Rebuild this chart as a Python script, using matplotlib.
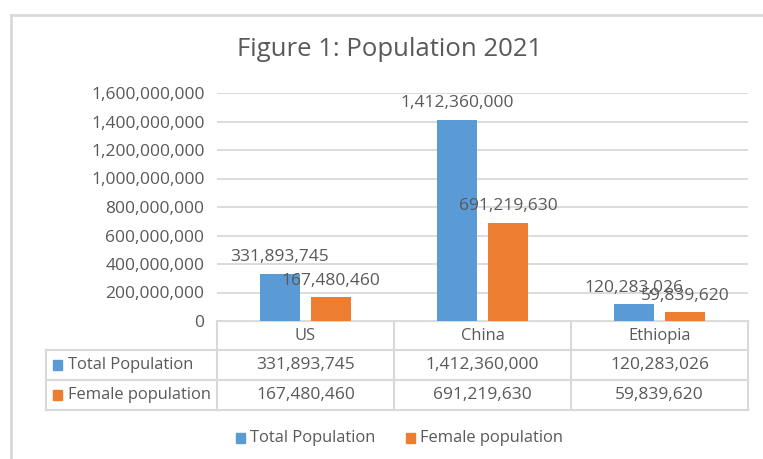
import matplotlib
matplotlib.use("Agg")
import matplotlib.pyplot as plt
from matplotlib.patches import Rectangle
from matplotlib.lines import Line2D
import numpy as np

categories = ["US", "China", "Ethiopia"]
series_names = ["Total Population", "Female population"]
total_pop = [331893745, 1412360000, 120283026]
female_pop = [167480460, 691219630, 59839620]
yticks = [0, 200000000, 400000000, 600000000, 800000000, 1000000000,
          1200000000, 1400000000, 1600000000]
title = "Figure 1: Population 2021"

BLUE = "#5B9BD5"
ORANGE = "#ED7D31"
TXT = "#595959"
GRID = "#D9D9D9"
FONT = "Open Sans"
FS = 12.5
FSW = 11.9

W, H = 763, 459
fig = plt.figure(figsize=(W / 100, H / 100), dpi=100)
fig.patch.set_facecolor("white")

def fx(px):
    return px / W

def fy(py):
    return 1 - py / H

# overlay axes in pixel coordinates
ov = fig.add_axes([0, 0, 1, 1])
ov.set_xlim(0, W)
ov.set_ylim(H, 0)
ov.axis("off")

# chart outer border (top & left visible)
ov.add_line(Line2D([11, W + 5], [15, 15], color=GRID, lw=2))
ov.add_line(Line2D([11, 11], [15, H + 5], color=GRID, lw=2))

# plot area
L, R, T, B = 217, 748, 93, 321
ax = fig.add_axes([fx(L), fy(B), fx(R - L), (B - T) / H])
x = np.arange(len(categories)) + 0.5
bw = 0.226
off = 0.144
b1 = ax.bar(x - off, total_pop, bw, color=BLUE, zorder=3)
b2 = ax.bar(x + off, female_pop, bw, color=ORANGE, zorder=3)
ax.set_xlim(0, len(categories))
ax.set_ylim(0, 1600000000)
ax.set_yticks(yticks)
ax.set_yticklabels([f"{v:,}" for v in yticks], fontsize=FS, color=TXT, family=FONT)
ax.tick_params(axis="y", length=0, pad=9)
ax.set_xticks([])
ax.grid(axis="y", color=GRID, lw=1.3, zorder=0)
for s in ax.spines.values():
    s.set_visible(False)

for bars, vals in ((b1, total_pop), (b2, female_pop)):
    for rect, v in zip(bars, vals):
        ax.annotate(f"{v:,}", (rect.get_x() + rect.get_width() / 2, v),
                    xytext=(0, 6), textcoords="offset points",
                    ha="center", va="bottom", fontsize=FS, color=TXT,
                    family=FONT, zorder=4)

# title
ov.text(390, 50, title, ha="center", va="center", fontsize=18.5, color=TXT, family=FONT)

# data table
col_edges = [L + (R - L) * i / 3 for i in range(4)]
row_edges = [321, 350, 380, 410]
tl = 46
lw = 1.5
ov.add_line(Line2D([L, R], [row_edges[0]] * 2, color=GRID, lw=lw))
for yy in row_edges[1:]:
    ov.add_line(Line2D([tl, R], [yy, yy], color=GRID, lw=lw))
ov.add_line(Line2D([tl, tl], [row_edges[1], row_edges[3]], color=GRID, lw=lw))
for xx in col_edges:
    ov.add_line(Line2D([xx, xx], [row_edges[0], row_edges[3]], color=GRID, lw=lw))

for i, c in enumerate(categories):
    cx = (col_edges[i] + col_edges[i + 1]) / 2
    ov.text(cx, (row_edges[0] + row_edges[1]) / 2 + 1, c, ha="center", va="center",
            fontsize=FSW, color=TXT, family=FONT)
rows = [total_pop, female_pop]
colors = [BLUE, ORANGE]
for r, (name, vals, col) in enumerate(zip(series_names, rows, colors)):
    cy = (row_edges[r + 1] + row_edges[r + 2]) / 2
    ov.add_patch(Rectangle((53, cy - 5), 9, 10, color=col))
    ov.text(68, cy, name, ha="left", va="center", fontsize=FSW, color=TXT, family=FONT)
    for i, v in enumerate(vals):
        cx = (col_edges[i] + col_edges[i + 1]) / 2
        ov.text(cx, cy, f"{v:,}", ha="center", va="center", fontsize=FS,
                color=TXT, family=FONT)

# legend
ly = 438
ov.add_patch(Rectangle((236, ly - 5), 9, 10, color=BLUE))
ov.text(250, ly, series_names[0], ha="left", va="center", fontsize=FSW, color=TXT, family=FONT)
ov.add_patch(Rectangle((406, ly - 5), 9, 10, color=ORANGE))
ov.text(420, ly, series_names[1], ha="left", va="center", fontsize=FSW, color=TXT, family=FONT)

fig.savefig("out.png", dpi=100)
